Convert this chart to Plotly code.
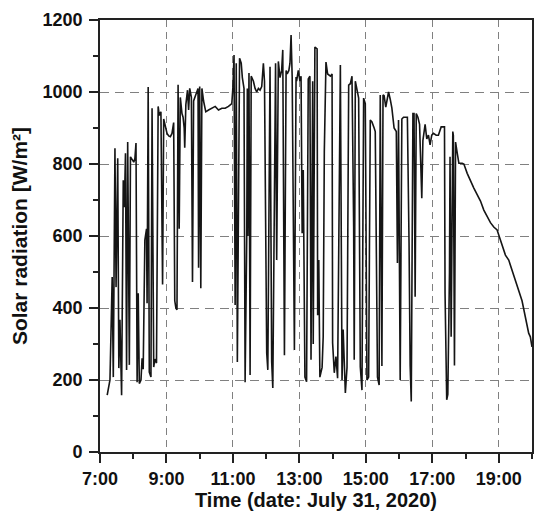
import pandas as pd
import plotly.graph_objects as go

# Readings for July 31, 2020 (clock time, W/m2)
times = [
    "07:13", "07:18", "07:22", "07:24", "07:27", "07:29", "07:32", "07:34", "07:36", "07:39",
    "07:42", "07:44", "07:46", "07:48", "07:50", "07:53", "07:55", "07:58", "08:01", "08:03",
    "08:05", "08:07", "08:09", "08:11", "08:14", "08:16", "08:18", "08:21", "08:24", "08:25",
    "08:27", "08:29", "08:32", "08:34", "08:37", "08:39", "08:42", "08:45", "08:47", "08:50",
    "08:53", "08:55", "08:58", "09:01", "09:04", "09:07", "09:10", "09:13", "09:15", "09:17",
    "09:19", "09:21", "09:23", "09:25", "09:28", "09:30", "09:32", "09:33", "09:35", "09:38",
    "09:40", "09:42", "09:45", "09:47", "09:49", "09:53", "09:57", "09:58", "10:00", "10:02",
    "10:04", "10:07", "10:11", "10:16", "10:22", "10:28", "10:34", "10:40", "10:46", "10:52",
    "10:58", "11:00", "11:02", "11:04", "11:06", "11:08", "11:12", "11:15", "11:17", "11:20",
    "11:22", "11:25", "11:26", "11:27", "11:29", "11:31", "11:33", "11:37", "11:40", "11:43",
    "11:46", "11:49", "11:52", "11:55", "11:57", "11:59", "12:01", "12:03", "12:05", "12:07",
    "12:10", "12:12", "12:15", "12:17", "12:19", "12:22", "12:25", "12:28", "12:30", "12:33",
    "12:36", "12:38", "12:41", "12:43", "12:45", "12:47", "12:51", "12:54", "12:55", "12:58",
    "13:01", "13:03", "13:05", "13:07", "13:10", "13:13", "13:16", "13:19", "13:21", "13:24",
    "13:25", "13:28", "13:32", "13:33", "13:35", "13:37", "13:41", "13:43", "13:45", "13:48",
    "13:51", "13:56", "13:59", "14:00", "14:03", "14:06", "14:09", "14:14", "14:17", "14:19",
    "14:23", "14:26", "14:29", "14:32", "14:35", "14:38", "14:39", "14:41", "14:44", "14:47",
    "14:50", "14:53", "14:56", "14:59", "15:02", "15:05", "15:08", "15:11", "15:15", "15:17",
    "15:21", "15:24", "15:26", "15:29", "15:31", "15:33", "15:36", "15:38", "15:41", "15:44",
    "15:47", "15:51", "15:55", "15:57", "15:59", "16:02", "16:05", "16:08", "16:11", "16:15",
    "16:18", "16:20", "16:22", "16:25", "16:27", "16:29", "16:31", "16:34", "16:37", "16:41",
    "16:43", "16:47", "16:50", "16:53", "16:56", "16:59", "17:02", "17:07", "17:11", "17:16",
    "17:19", "17:22", "17:23", "17:26", "17:28", "17:31", "17:32", "17:34", "17:37", "17:38",
    "17:40", "17:42", "17:45", "17:48", "17:54", "17:57", "18:03", "18:09", "18:15", "18:21",
    "18:27", "18:33", "18:39", "18:45", "18:51", "18:57", "19:00", "19:06", "19:12", "19:18",
    "19:24", "19:30", "19:36", "19:42", "19:48", "19:54", "19:57", "20:00",
]
radiation = [
    158, 200, 486, 208, 844, 458, 816, 233, 367, 158,
    755, 680, 830, 228, 861, 242, 820, 812, 805, 815,
    858, 194, 441, 190, 200, 260, 230, 589, 620, 413,
    1014, 222, 208, 955, 236, 258, 247, 960, 935, 945,
    465, 925, 905, 885, 878, 876, 885, 915, 420, 400,
    395, 1020, 620, 985, 940, 930, 900, 845, 965, 1005,
    950, 1010, 985, 472, 975, 990, 1010, 512, 1015, 455,
    1010, 975, 945, 950, 955, 960, 950, 955, 955, 960,
    968, 1014, 1103, 408, 1080, 250, 1094, 1080, 1040, 1010,
    194, 600, 1010, 600, 1053, 214, 1044, 1030, 1010, 1000,
    1010, 1005, 1015, 1080, 1030, 719, 275, 228, 719, 1070,
    250, 178, 720, 1080, 533, 1085, 1040, 1060, 1117, 269,
    1060, 1050, 1060, 1080, 1158, 1042, 283, 1042, 1030, 1060,
    1030, 1044, 608, 783, 208, 195, 1036, 1044, 256, 1030,
    300, 1125, 1120, 380, 533, 208, 235, 320, 833, 1083,
    1050, 1044, 1050, 303, 220, 265, 205, 1075, 200, 340,
    164, 235, 1019, 1023, 1044, 625, 256, 1030, 1008, 983,
    236, 172, 983, 968, 200, 208, 922, 917, 900, 890,
    208, 186, 992, 239, 992, 990, 958, 980, 1000, 980,
    955, 900, 890, 525, 922, 200, 925, 930, 930, 930,
    580, 240, 140, 940, 940, 431, 940, 930, 910, 705,
    865, 910, 870, 880, 853, 880, 885, 880, 880, 903,
    903, 903, 441, 145, 160, 500, 820, 320, 890, 880,
    240, 861, 830, 802, 802, 800, 774, 752, 733, 715,
    697, 672, 653, 637, 625, 617, 603, 575, 547, 533,
    505, 477, 450, 420, 375, 330, 320, 292,
]

x = pd.to_datetime(["2020-07-31 " + t for t in times])

fig = go.Figure()
fig.add_trace(go.Scatter(
    x=x, y=radiation, mode="lines",
    line=dict(color="#151515", width=1.6),
    showlegend=False,
))

font_family = "Liberation Sans, Arial, sans-serif"

fig.update_layout(
    width=542, height=517,
    margin=dict(l=92, r=18, t=12, b=73),
    paper_bgcolor="white", plot_bgcolor="white",
    font=dict(family=font_family, color="#111"),
)

fig.update_xaxes(
    type="date", automargin=False,
    range=["2020-07-31 07:00", "2020-07-31 20:00"],
    tick0="2020-07-31 07:00", dtick=2 * 3600 * 1000,
    tickformat="%-H:%M",
    ticks="outside", ticklen=9, tickwidth=1.5, tickcolor="#222",
    minor=dict(dtick=3600 * 1000, ticks="outside", ticklen=5, tickwidth=1.5,
               tickcolor="#222", showgrid=False),
    showgrid=True, gridcolor="#808080", griddash="7px,5px", gridwidth=1,
    showline=True, linecolor="#222", linewidth=1.8, mirror=True,
    tickfont=dict(size=18, weight="bold"),
    title=dict(text="Time (date: July 31, 2020)", font=dict(size=20, weight="bold"), standoff=0),
)

fig.update_yaxes(
    automargin=False,
    range=[0, 1200], dtick=200,
    ticks="outside", ticklen=9, tickwidth=1.5, tickcolor="#222",
    minor=dict(dtick=100, ticks="outside", ticklen=5, tickwidth=1.5,
               tickcolor="#222", showgrid=False),
    showgrid=True, gridcolor="#808080", griddash="9px,6px", gridwidth=1,
    zeroline=False,
    showline=True, linecolor="#222", linewidth=1.8, mirror=True,
    tickfont=dict(size=18, weight="bold"),
    ticklabelstandoff=3,
    title=dict(text="Solar radiation [W/m²]", font=dict(size=21, weight="bold"), standoff=10),
)

fig.write_html("out.html")
